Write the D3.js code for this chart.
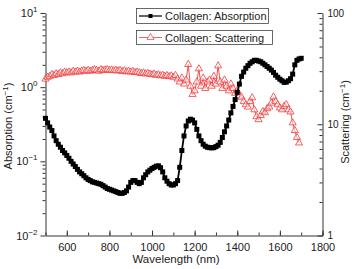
<!DOCTYPE html>
<html>
<head>
<meta charset="utf-8">
<script src="https://cdn.jsdelivr.net/npm/d3@7"></script>
<style>
  body { margin: 0; background: #fff; }
  svg text { font-family: Arial, 'Liberation Sans', sans-serif; fill: #222; }
</style>
</head>
<body>
<svg width="355" height="269"></svg>
<script>
// wavelengths (nm)
const absWl = d3.range(500, 1701, 10);
const absVals = [
  0.38, 0.33, 0.29, 0.26, 0.22, 0.19, 0.17, 0.155, 0.14, 0.13,
  0.12, 0.11, 0.10, 0.092, 0.085, 0.078, 0.072, 0.068, 0.064, 0.060,
  0.057, 0.055, 0.053, 0.052, 0.051, 0.050, 0.049, 0.047, 0.045, 0.043,
  0.042, 0.041, 0.040, 0.039, 0.038, 0.037, 0.037, 0.038, 0.040, 0.045,
  0.052, 0.055, 0.055, 0.052, 0.050, 0.052, 0.060, 0.066, 0.072, 0.076,
  0.080, 0.083, 0.086, 0.087, 0.082, 0.072, 0.060, 0.054, 0.050, 0.048,
  0.048, 0.050, 0.055, 0.083, 0.14, 0.22, 0.30, 0.35, 0.37, 0.36,
  0.33, 0.27, 0.22, 0.19, 0.17, 0.16, 0.155, 0.153, 0.152, 0.153,
  0.158, 0.165, 0.18, 0.21, 0.25, 0.30, 0.36, 0.45, 0.55, 0.68,
  0.85, 1.1, 1.4, 1.6, 1.8, 1.95, 2.1, 2.2, 2.3, 2.3,
  2.25, 2.2, 2.1, 2.0, 1.9, 1.8, 1.7, 1.58, 1.45, 1.36,
  1.28, 1.22, 1.16, 1.17, 1.22, 1.3, 1.5, 2.0, 2.3, 2.4,
  2.45
];

const scatWl = d3.range(500, 1691, 10);
const scatVals = [
  25.5, 26.5, 27, 28, 27.5, 28.5, 28, 29, 28.5, 29.5,
  29, 29.5, 29, 30, 29.5, 30, 29.5, 30, 30.5, 30,
  30.5, 30, 30.5, 31, 30.5, 30, 31, 30.5, 30.8, 31,
  30.5, 30.8, 30.3, 30.6, 30.2, 30.5, 29.8, 30.3, 29.6, 30,
  29.5, 29.8, 29.2, 29.5, 29, 28.6, 29, 28.4, 28.7, 28.2,
  27.9, 28.3, 27.6, 27.9, 27.3, 27.6, 27, 27.4, 26.8, 27.2,
  26.5, 27.5, 25.5, 24, 26, 23, 25, 34.5, 22, 18.5,
  20, 24, 31.5, 22, 26, 21, 24, 25, 22, 27,
  23, 33.5, 24, 21, 25, 22, 20, 23, 21, 19,
  20, 18, 17.5, 16, 15, 14.3, 16, 17.3, 13.5, 11.7,
  11, 12, 13, 12.7, 13.8, 14.3, 15.5, 17.6, 16, 15,
  14, 13.5, 14.5, 15, 13.5, 12.9, 10.3, 8.8, 7.6, 6.8
];

const xTicks = [600, 800, 1000, 1200, 1400, 1600, 1800];
const leftTicks = [0.01, 0.1, 1, 10];
const leftTickExp = ['\u22122', '\u22121', '0', '1'];
const rightTicks = [1, 10, 100];

const svg = d3.select('svg');
const x = d3.scaleLinear().domain([500, 1800]).range([45.5, 322.5]);
const yL = d3.scaleLog().domain([0.01, 10]).range([235.5, 13]);
const yR = d3.scaleLog().domain([1, 100]).range([235.5, 13]);

function minorLog(lo, hi) {
  const out = [];
  for (let d = lo; d < hi; d *= 10)
    for (let k = 2; k <= 9; k++) out.push(d * k);
  return out;
}

// bottom axis
svg.append('g')
  .attr('transform', 'translate(0,235.5)')
  .call(d3.axisBottom(x).tickValues(d3.range(500, 1801, 100)).tickSize(-3).tickFormat(''))
  .call(g => g.select('.domain').remove());
svg.append('g')
  .attr('class', 'x axis')
  .attr('transform', 'translate(0,235.5)')
  .call(d3.axisBottom(x).tickValues(xTicks).tickSizeInner(-5).tickSizeOuter(0)
    .tickFormat(d3.format('d')).tickPadding(8))
  .call(g => g.selectAll('text').style('font-size', '11px'));

// left axis
svg.append('g')
  .attr('transform', 'translate(45.5,0)')
  .call(d3.axisLeft(yL).tickValues(minorLog(0.01, 10)).tickSize(3).tickFormat(''))
  .call(g => g.select('.domain').remove());
const gl = svg.append('g')
  .attr('transform', 'translate(45.5,0)')
  .call(d3.axisLeft(yL).tickValues(leftTicks).tickSizeInner(5).tickSizeOuter(0).tickFormat(''));
leftTicks.forEach((v, i) => {
  const t = gl.append('text').attr('x', -8).attr('y', yL(v) + 4)
    .attr('text-anchor', 'end').style('font-size', '11px');
  t.append('tspan').text('10');
  t.append('tspan').attr('dy', -5).style('font-size', '8px').text(leftTickExp[i]);
});

// right axis
svg.append('g')
  .attr('transform', 'translate(322.5,0)')
  .call(d3.axisRight(yR).tickValues(minorLog(1, 100)).tickSize(-3).tickFormat(''))
  .call(g => g.select('.domain').remove());
svg.append('g')
  .attr('transform', 'translate(322.5,0)')
  .call(d3.axisRight(yR).tickValues(rightTicks).tickSizeInner(-5).tickSizeOuter(0)
    .tickFormat(d3.format('d')).tickPadding(8))
  .call(g => g.selectAll('text').style('font-size', '10px').attr('x', 5));

svg.selectAll('.domain, .tick line').attr('stroke', '#333');

// axis titles
function titleWithSup(sel, main) {
  sel.append('tspan').text(main + ' (cm');
  sel.append('tspan').attr('dy', -4).style('font-size', '8px').text('\u22121');
  sel.append('tspan').attr('dy', 4).text(')');
}
svg.append('text').attr('x', 176).attr('y', 263).attr('text-anchor', 'middle')
  .style('font-size', '11.5px').text('Wavelength (nm)');
titleWithSup(svg.append('text')
  .attr('transform', 'translate(12,126) rotate(-90)').attr('text-anchor', 'middle')
  .style('font-size', '11px'), 'Absorption');
titleWithSup(svg.append('text')
  .attr('transform', 'translate(349,122) rotate(-90)').attr('text-anchor', 'middle')
  .style('font-size', '11px'), 'Scattering');

const red = '#ee3b3b';
const tri = d3.symbol().type(d3.symbolTriangle).size(22);

// scattering
const scat = scatWl.map((w, i) => [w, scatVals[i]]);
svg.append('path').datum(scat)
  .attr('fill', 'none').attr('stroke', red).attr('stroke-width', 0.9)
  .attr('d', d3.line().x(d => x(d[0])).y(d => yR(d[1])));
svg.selectAll('.tri').data(scat).enter().append('path')
  .attr('class', 'tri')
  .attr('transform', d => `translate(${x(d[0])},${yR(d[1])})`)
  .attr('d', tri).attr('fill', 'white').attr('fill-opacity', 0.5)
  .attr('stroke', red).attr('stroke-width', 0.8);

// absorption
const abs = absWl.map((w, i) => [w, absVals[i]]);
svg.append('path').datum(abs)
  .attr('fill', 'none').attr('stroke', '#000').attr('stroke-width', 1.8)
  .attr('d', d3.line().x(d => x(d[0])).y(d => yL(d[1])));
svg.selectAll('.sq').data(abs).enter().append('rect')
  .attr('class', 'sq')
  .attr('x', d => x(d[0]) - 2.5).attr('y', d => yL(d[1]) - 2.5)
  .attr('width', 5).attr('height', 5).attr('fill', '#000');

// legend
const lg1 = svg.append('g');
lg1.append('rect').attr('x', 136.5).attr('y', 8.5).attr('width', 132).attr('height', 15)
  .attr('fill', 'white').attr('stroke', '#444').attr('stroke-width', 0.8);
lg1.append('line').attr('x1', 139).attr('x2', 162).attr('y1', 16).attr('y2', 16)
  .attr('stroke', '#000').attr('stroke-width', 1.2);
lg1.append('rect').attr('x', 148.5).attr('y', 14).attr('width', 4).attr('height', 4).attr('fill', '#000');
lg1.append('text').attr('x', 165).attr('y', 20).style('font-size', '11px').text('Collagen: Absorption');

const lg2 = svg.append('g');
lg2.append('rect').attr('x', 136.5).attr('y', 30.5).attr('width', 136).attr('height', 14)
  .attr('fill', 'white').attr('stroke', '#444').attr('stroke-width', 0.8);
lg2.append('line').attr('x1', 139).attr('x2', 162).attr('y1', 37.5).attr('y2', 37.5)
  .attr('stroke', red).attr('stroke-width', 0.8);
lg2.append('path').attr('transform', 'translate(150.5,37.5)').attr('d', tri)
  .attr('fill', 'white').attr('stroke', red).attr('stroke-width', 0.7);
lg2.append('text').attr('x', 165).attr('y', 41.5).style('font-size', '11px').text('Collagen: Scattering');
</script>
</body>
</html>
